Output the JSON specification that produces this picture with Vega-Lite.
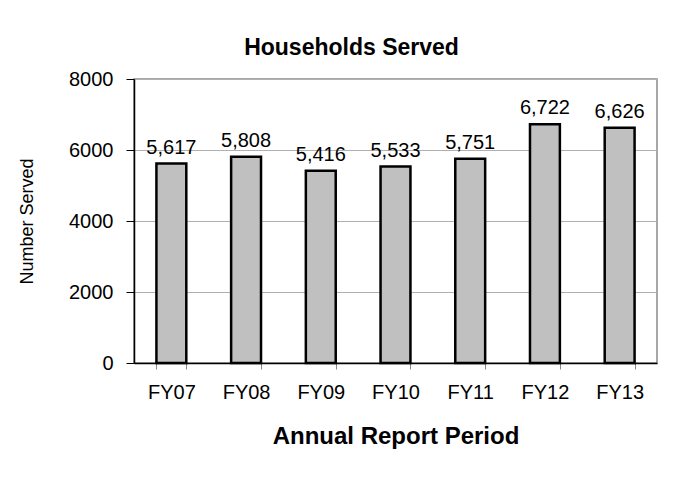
{
  "$schema": "https://vega.github.io/schema/vega-lite/v6.json",
  "autosize": {"type": "none"},
  "width": 523,
  "height": 284,
  "padding": {"left": 134, "top": 79, "right": 32, "bottom": 115},
  "background": "white",
  "config": {
    "font": "Liberation Sans",
    "view": {"stroke": "#8a8a8a", "strokeWidth": 1.5}
  },
  "title": {
    "text": "Households Served",
    "font": "Liberation Sans",
    "fontSize": 23,
    "fontWeight": "bold",
    "color": "black",
    "anchor": "middle",
    "dx": -44,
    "dy": 32,
    "baseline": "alphabetic",
    "offset": 23
  },
  "data": {
    "values": [
      {"period": "FY07", "served": 5617},
      {"period": "FY08", "served": 5808},
      {"period": "FY09", "served": 5416},
      {"period": "FY10", "served": 5533},
      {"period": "FY11", "served": 5751},
      {"period": "FY12", "served": 6722},
      {"period": "FY13", "served": 6626}
    ]
  },
  "encoding": {
    "x": {
      "field": "period",
      "type": "nominal",
      "sort": null,
      "scale": {"paddingInner": 0.6, "paddingOuter": 0.3},
      "axis": {
        "title": "Annual Report Period",
        "titleFont": "Liberation Sans",
        "titleFontSize": 24,
        "titleFontWeight": "bold",
        "titleColor": "black",
        "titlePadding": 22,
        "labelAngle": 0,
        "labelFontSize": 20,
        "labelColor": "black",
        "labelPadding": 13,
        "tickBand": "extent",
        "tickSize": 6,
        "tickColor": "#888888",
        "domainColor": "black",
        "domainWidth": 1.5
      }
    },
    "y": {
      "field": "served",
      "type": "quantitative",
      "scale": {"domain": [0, 8000], "nice": false},
      "axis": {
        "title": "Number Served",
        "titleFontSize": 18,
        "titleFontWeight": "normal",
        "titleColor": "black",
        "titlePadding": 32,
        "values": [0, 2000, 4000, 6000, 8000],
        "format": "d",
        "labelFontSize": 20,
        "labelColor": "black",
        "labelPadding": 13,
        "tickSize": 8,
        "tickColor": "black",
        "domainColor": "black",
        "domainWidth": 1.5,
        "gridColor": "#b0b0b0",
        "gridWidth": 1
      }
    }
  },
  "layer": [
    {
      "mark": {"type": "bar", "color": "#c0c0c0", "stroke": "black", "strokeWidth": 2.5}
    },
    {
      "mark": {"type": "text", "baseline": "alphabetic", "dy": -10, "fontSize": 20, "color": "black"},
      "encoding": {"text": {"field": "served", "type": "quantitative", "format": ","}}
    }
  ]
}
